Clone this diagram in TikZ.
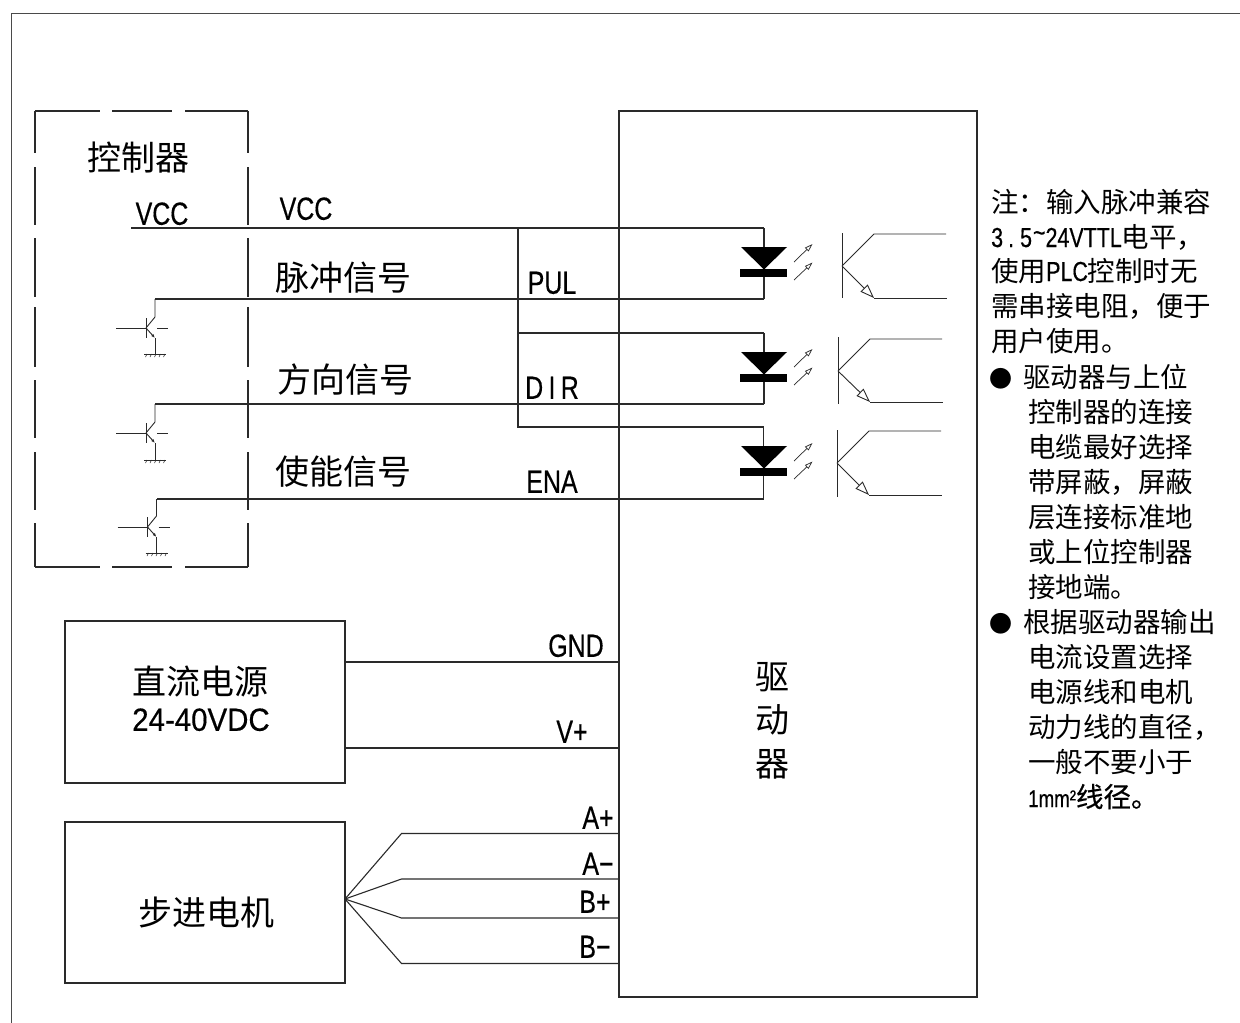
\documentclass[tikz,border=0pt]{standalone}
\usepackage{fontspec}
\setmainfont{Noto Sans CJK SC}
\newfontfamily\lat[FakeStretch=0.78,FakeBold=0.4]{Liberation Sans}
\newfontfamily\latw[FakeStretch=0.92,FakeBold=0.4]{Liberation Sans}
\newfontfamily\cjkb[FakeBold=0.6]{Noto Sans CJK SC}
\usetikzlibrary{arrows.meta}
\definecolor{ink}{HTML}{2A2A2A}
\newcommand{\fs}[1]{\fontsize{#1}{#1}\selectfont}
\tikzset{
  wire/.style={draw=ink,line width=1.1pt,line join=miter},
  frameline/.style={draw=ink!85,line width=0.9pt},
  thin wire/.style={draw=ink,line width=0.9pt},
  boxn/.style={draw=ink,line width=1.1pt,inner sep=0pt,outer sep=0pt},
  big/.style={inner sep=0pt,yshift=-10pt,text=black,text height=.8em,text depth=.2em,font=\fs{34}},
  lab/.style={inner sep=0pt,yshift=-7pt,text=black,text height=.75em,text depth=0em,font=\fs{32}\lat},
  note/.style={inner sep=0pt,yshift=-7pt,anchor=west,text=black,text height=.8em,text depth=.2em,font=\fs{27.5}},
  lightarrow/.style={draw=ink,line width=0.7pt,-{Triangle[open,length=8pt,width=5pt]}},
  sensearrow/.style={draw=ink,line width=0.9pt,-{Triangle[open,length=14pt,width=10pt]}},
  emit/.style={draw=ink,line width=0.9pt,-{Latex[length=4pt,width=3pt]}}
}
\begin{document}
\begin{tikzpicture}[x=1pt,y=-1pt]
\useasboundingbox (0,0) rectangle (1240,1023);
\fill[white] (0,0) rectangle (1240,1023);
% sheet frame
\coordinate (fa) at (11,1023); \coordinate (fb) at (11,13); \coordinate (fc) at (1240,13);
\draw[frameline] (fa) -- (fb) -- (fc);
% boxes
\node[boxn,minimum width=358pt,minimum height=886pt] (drv) at (798,554) {};
\node[boxn,minimum width=280pt,minimum height=162pt] (psu) at (205,702) {};
\node[boxn,minimum width=280pt,minimum height=161pt] (motor) at (205,902.5) {};
\node[inner sep=0pt,outer sep=0pt,minimum width=213pt,minimum height=456pt] (ctrl) at (141.5,339) {};
\draw[wire,dash pattern=on 65pt off 12pt on 60pt off 13pt on 64pt off 1pt] (ctrl.north west) -- (ctrl.north east);
\draw[wire,dash pattern=on 65pt off 12pt on 60pt off 13pt on 64pt off 1pt] (ctrl.south west) -- (ctrl.south east);
\draw[wire,dash pattern=on 42pt off 14pt on 58pt off 13pt on 59pt off 10pt on 60pt off 13pt on 58pt off 14pt on 58pt off 13pt on 46pt off 1pt] (ctrl.north west) -- (ctrl.south west);
\draw[wire,dash pattern=on 42pt off 14pt on 58pt off 13pt on 59pt off 10pt on 60pt off 13pt on 58pt off 14pt on 58pt off 13pt on 46pt off 1pt] (ctrl.north east) -- (ctrl.south east);
% LEDs
\foreach \n/\ty/\wt/\wb/\wx in {a/247/228/299/764,b/352/333/404/764,c/446/427/499/763.5}{
  \coordinate (led\n top) at (\wx,\wt);
  \coordinate (led\n bot) at (\wx,\wb);
  \draw[wire] (led\n top) -- (led\n bot);
  \fill[black] (741,\ty) -- (787,\ty) -- (764,\ty+22.5) -- cycle;
  \fill[black] (740,\ty+22) rectangle (787,\ty+30);
  \coordinate (la\n) at (794,\ty+15); \coordinate (lb\n) at (812.5,\ty-3);
  \coordinate (lc\n) at (794,\ty+33); \coordinate (ld\n) at (812.5,\ty+15.5);
  \draw[lightarrow] (la\n) -- (lb\n);
  \draw[lightarrow] (lc\n) -- (ld\n);
}
% phototransistors
\foreach \n/\bx/\bt/\bb/\ay/\uy/\ly in {a/842/233/298/266/234/298,b/838/337/404/371/339/402,c/837/430/497/463/431/495}{
  \coordinate (pt\n t) at (\bx,\bt); \coordinate (pt\n b) at (\bx,\bb);
  \coordinate (pt\n a) at (\bx,\ay);
  \coordinate (pt\n u) at (\bx+32,\uy); \coordinate (pt\n l) at (\bx+32,\ly);
  \coordinate (pt\n ue) at (\bx+104,\uy); \coordinate (pt\n le) at (\bx+105,\ly);
  \draw[thin wire] (pt\n t) -- (pt\n b);
  \draw[thin wire] (pt\n a) -- (pt\n u) -- (pt\n ue);
  \draw[sensearrow] (pt\n a) -- (pt\n l);
  \draw[thin wire] (pt\n l) -- (pt\n le);
}
% controller transistors
\foreach \n/\dx/\by/\wy/\gy in {a/0/328/299/354,b/0/433/404/460,c/1.5/527/499/553}{
  \coordinate (q\n w) at (155+\dx,\wy);
  \coordinate (q\n c) at (155+\dx,\by-11);
  \coordinate (q\n a) at (146+\dx,\by);
  \coordinate (q\n e) at (155+\dx,\by+10);
  \coordinate (q\n g) at (155+\dx,\gy);
  \draw[thin wire] (q\n w) -- (q\n c) -- (q\n a);
  \draw[emit] (q\n a) -- (q\n e);
  \draw[thin wire] (q\n e) -- (q\n g);
  \draw[thin wire] (146+\dx,\by-10) -- (146+\dx,\by+10);
  \draw[thin wire] (116+\dx,\by) -- (q\n a);
  \draw[thin wire] (157+\dx,\by) -- (168+\dx,\by);
  \draw[draw=ink,line width=0.7pt] (144+\dx,\gy) -- (166+\dx,\gy);
  \foreach \k in {0,1,2,3,4}{\draw[draw=ink,line width=0.5pt] (147+\dx+\k*4.5,\gy) -- (145.5+\dx+\k*4.5,\gy+3);}
}
% signal wiring
\coordinate (vccs) at (131,228);
\coordinate (jt) at (518,228); \coordinate (jm) at (518,333); \coordinate (jb) at (518,427);
\draw[wire] (vccs) -- (ledatop);
\draw[wire] (jt) -- (jb) -- (ledctop);
\draw[wire] (jm) -- (ledbtop);
\draw[wire] (ledabot) -- (qaw);
\draw[wire] (ledbbot) -- (qbw);
\draw[wire] (ledcbot) -- (qcw);
% power wires
\draw[wire] (psu.east |- 0,662) coordinate (g1) -- (drv.west |- g1);
\draw[wire] (psu.east |- 0,748) coordinate (g2) -- (drv.west |- g2);
% motor fan
\coordinate (mf) at (345,899);
\foreach \y in {833.5,879,918,963.5}{
  \draw[wire] (mf) -- (401.5,\y) -- (drv.west |- 0,\y);
}
% labels
\node[big] (t1) at (138,157) {控制器};
\node[lab] (t2) at (162,214) {VCC};
\node[lab] (t3) at (306,209) {VCC};
\node[big] (t4) at (343,277) {脉冲信号};
\node[big] (t5) at (345,379) {方向信号};
\node[big] (t6) at (343,471) {使能信号};
\node[lab] (t7) at (552,283) {PUL};
\node[lab] (t8) at (552,388) {D\,I\,R};
\node[lab] (t9) at (552,482) {ENA};
\node[lab] (t10) at (576,646) {GND};
\node[lab] (t11) at (572,732) {V+};
\node[lab] (t12) at (598,818) {A+};
\node[lab] (t13) at (598,864) {A−};
\node[lab] (t14) at (595,902) {B+};
\node[lab] (t15) at (595,947) {B−};
\node[big] (t16) at (772,676) {驱};
\node[big] (t17) at (772,719) {动};
\node[big] (t18) at (772,763) {器};
\node[big] (t19) at (200,681) {直流电源};
\node[lab,font=\fs{32}\latw] (t20) at (201,720) {24-40VDC};
\node[big] (t21) at (206,912) {步进电机};
% note
\node[note] (n1) at (991,202) {注：输入脉冲兼容};
\node[note] (n2) at (991,237) {{\lat 3\kern5pt.\kern6pt5\kern1pt\raisebox{5pt}{\textasciitilde}24VTTL}电平，};
\node[note] (n3) at (991,271) {使用{\lat PLC}控制时无};
\node[note] (n4) at (991,306) {需串接电阻，便于};
\node[note] (n5) at (991,341) {用户使用。};
\node[note] (n6) at (989.5,377) {{\fs{23}●}\kern10.5pt 驱动器与上位};
\node[note] (n7) at (1028,412) {控制器的连接};
\node[note] (n8) at (1028,447) {电缆最好选择};
\node[note] (n9) at (1028,482) {带屏蔽，屏蔽};
\node[note] (n10) at (1028,517) {层连接标准地};
\node[note] (n11) at (1028,552) {或上位控制器};
\node[note] (n12) at (1028,587) {接地端。};
\node[note] (n13) at (989.5,622) {{\fs{23}●}\kern10.5pt 根据驱动器输出};
\node[note] (n14) at (1028,657) {电流设置选择};
\node[note] (n15) at (1028,692) {电源线和电机};
\node[note] (n16) at (1028,727) {动力线的直径，};
\node[note] (n17) at (1028,762) {一般不要小于};
\node[note] (n18) at (1028,797) {{\lat\fs{24}1mm²}{\cjkb 线径。}};
\end{tikzpicture}
\end{document}
